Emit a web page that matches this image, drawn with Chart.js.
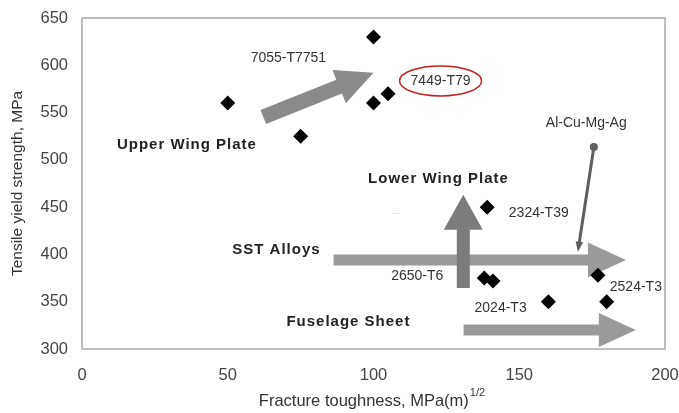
<!DOCTYPE html>
<html>
<head>
<meta charset="utf-8">
<script src="https://cdn.jsdelivr.net/npm/chart.js@4.4.1/dist/chart.umd.min.js"></script>
<style>
  html, body { margin: 0; padding: 0; background: #fff; }
  #wrap { width: 679px; height: 413px; }
</style>
</head>
<body>
<div id="wrap"><canvas id="chart"></canvas></div>
<script>
// alloy data points
const toughness = [50, 75, 100, 100, 105, 139, 138, 141, 160, 177, 180];
const strength  = [560, 525, 630, 560, 570, 450, 375, 372, 350, 378, 350];

const xTicks = [0, 50, 100, 150, 200];
const yTicks = [300, 350, 400, 450, 500, 550, 600, 650];

// annotation text, placed in data units
const labels = [
  { text: '7055-T7751', x: 70.8, y: 608, bold: false },
  { text: '7449-T79', x: 123, y: 583.5, bold: false },
  { text: 'Upper Wing Plate', x: 36, y: 515.5, bold: true },
  { text: 'Al-Cu-Mg-Ag', x: 173, y: 539, bold: false },
  { text: 'Lower Wing Plate', x: 122.3, y: 480, bold: true },
  { text: '2324-T39', x: 156.7, y: 444, bold: false },
  { text: 'SST Alloys', x: 66.7, y: 405, bold: true },
  { text: '2650-T6', x: 115, y: 377.5, bold: false },
  { text: '2524-T3', x: 190, y: 365.5, bold: false },
  { text: '2024-T3', x: 143.6, y: 343.5, bold: false },
  { text: 'Fuselage Sheet', x: 91.4, y: 328.6, bold: true }
];

// block arrows: from -> to, in data units
const arrows = [
  { x1: 86.3, y1: 394.2, x2: 186.6, y2: 394.2, shaft: 11, head: 35, len: 38, color: '#9a9a9a' },
  { x1: 130.9, y1: 320.2, x2: 190, y2: 320.2, shaft: 11, head: 34, len: 37, color: '#9a9a9a' },
  { x1: 130.8, y1: 364.6, x2: 130.8, y2: 463, shaft: 13, head: 39, len: 35, color: '#7c7c7c' },
  { x1: 62.2, y1: 545.3, x2: 100, y2: 592, shaft: 15, head: 36, len: 37, color: '#8a8a8a' }
];

function blockArrow(ctx, x1, y1, x2, y2, a) {
  const ang = Math.atan2(y2 - y1, x2 - x1);
  const len = Math.hypot(x2 - x1, y2 - y1);
  ctx.save();
  ctx.translate(x1, y1);
  ctx.rotate(ang);
  ctx.beginPath();
  ctx.moveTo(0, -a.shaft / 2);
  ctx.lineTo(len - a.len, -a.shaft / 2);
  ctx.lineTo(len - a.len, -a.head / 2);
  ctx.lineTo(len, 0);
  ctx.lineTo(len - a.len, a.head / 2);
  ctx.lineTo(len - a.len, a.shaft / 2);
  ctx.lineTo(0, a.shaft / 2);
  ctx.closePath();
  ctx.fillStyle = a.color;
  ctx.fill();
  ctx.restore();
}

const annotations = {
  id: 'annotations',
  beforeDatasetsDraw(chart) {
    const { ctx, chartArea: ca, scales: { x, y } } = chart;
    ctx.save();
    // plot frame
    ctx.strokeStyle = '#a8a8a8';
    ctx.lineWidth = 1.5;
    ctx.strokeRect(ca.left, ca.top, ca.right - ca.left, ca.bottom - ca.top);
    arrows.forEach(a => {
      blockArrow(ctx, x.getPixelForValue(a.x1), y.getPixelForValue(a.y1),
        x.getPixelForValue(a.x2), y.getPixelForValue(a.y2), a);
    });
    // thin pointer for Al-Cu-Mg-Ag
    const px1 = x.getPixelForValue(175.6), py1 = y.getPixelForValue(513.6);
    const px2 = x.getPixelForValue(170.1), py2 = y.getPixelForValue(402.6);
    const ang = Math.atan2(py2 - py1, px2 - px1);
    ctx.strokeStyle = '#5e5e5e';
    ctx.fillStyle = '#5e5e5e';
    ctx.lineWidth = 3;
    ctx.beginPath();
    ctx.moveTo(px1, py1);
    ctx.lineTo(px2 - Math.cos(ang) * 6, py2 - Math.sin(ang) * 6);
    ctx.stroke();
    ctx.beginPath();
    ctx.arc(px1, py1, 4, 0, Math.PI * 2);
    ctx.fill();
    ctx.beginPath();
    ctx.moveTo(px2, py2);
    ctx.lineTo(px2 - Math.cos(ang - 0.35) * 11, py2 - Math.sin(ang - 0.35) * 11);
    ctx.lineTo(px2 - Math.cos(ang + 0.35) * 11, py2 - Math.sin(ang + 0.35) * 11);
    ctx.closePath();
    ctx.fill();
    ctx.restore();
  },
  afterDatasetsDraw(chart) {
    const { ctx, chartArea: ca, scales: { x, y } } = chart;
    ctx.save();
    ctx.textAlign = 'center';
    ctx.textBaseline = 'middle';
    labels.forEach(l => {
      ctx.font = l.bold ? 'bold 15px "Liberation Sans", Arial' : '14px "Liberation Sans", Arial';
      ctx.letterSpacing = l.bold ? '1px' : '0px';
      ctx.fillStyle = l.bold ? '#222' : '#333';
      ctx.fillText(l.text, x.getPixelForValue(l.x), y.getPixelForValue(l.y));
    });
    ctx.letterSpacing = '0px';
    // dots
    ctx.fillStyle = '#bbb';
    ctx.font = '9px "Liberation Sans", Arial';
    ctx.fillText('...', x.getPixelForValue(107.6), y.getPixelForValue(445));
    // red ellipse round 7449-T79
    ctx.strokeStyle = '#c62020';
    ctx.lineWidth = 1.5;
    ctx.beginPath();
    ctx.ellipse(x.getPixelForValue(123), y.getPixelForValue(583.5), 41, 15, 0, 0, Math.PI * 2);
    ctx.stroke();
    // x axis title with superscript
    const main = 'Fracture toughness, MPa(m)';
    ctx.font = '16.5px "Liberation Sans", Arial';
    const w1 = ctx.measureText(main).width;
    ctx.font = '11px "Liberation Sans", Arial';
    const w2 = ctx.measureText('1/2').width;
    const cx = (ca.left + ca.right) / 2;
    const start = cx - 2 - (w1 + w2) / 2;
    ctx.textAlign = 'left';
    ctx.fillStyle = '#333';
    ctx.font = '16.5px "Liberation Sans", Arial';
    ctx.fillText(main, start, 401);
    ctx.font = '11px "Liberation Sans", Arial';
    ctx.fillText('1/2', start + w1 + 1, 393);
    ctx.restore();
  }
};

new Chart(document.getElementById('chart'), {
  type: 'scatter',
  data: {
    datasets: [{
      label: 'Alloys',
      data: toughness.map((t, i) => ({ x: t, y: strength[i] })),
      pointStyle: 'rectRot',
      pointRadius: 7.5,
      pointHoverRadius: 7.5,
      backgroundColor: '#000',
      borderColor: '#000',
      borderWidth: 0
    }]
  },
  options: {
    responsive: true,
    maintainAspectRatio: false,
    animation: false,
    events: [],
    layout: { padding: { top: 18, right: 14, left: 0, bottom: 0 } },
    plugins: {
      legend: { display: false },
      tooltip: { enabled: false }
    },
    scales: {
      x: {
        type: 'linear',
        min: 0,
        max: 200,
        afterBuildTicks: s => { s.ticks = xTicks.map(v => ({ value: v })); },
        afterFit: s => { s.height = 64; s.paddingLeft = 0; s.paddingRight = 0; },
        grid: { display: false, drawTicks: false },
        border: { display: false },
        ticks: { padding: 17, color: '#444', font: { family: '"Liberation Sans", Arial', size: 16.5 } }
      },
      y: {
        type: 'linear',
        min: 300,
        max: 650,
        afterBuildTicks: s => { s.ticks = yTicks.map(v => ({ value: v })); },
        afterFit: s => { s.width = 82; s.paddingTop = 0; s.paddingBottom = 0; },
        grid: { display: false, drawTicks: false },
        border: { display: false },
        ticks: { padding: 14, color: '#444', font: { family: '"Liberation Sans", Arial', size: 16.5 } },
        title: {
          display: true,
          text: 'Tensile yield strength, MPa',
          color: '#333',
          padding: { top: 8, bottom: 0 },
          font: { family: '"Liberation Sans", Arial', size: 15.5 }
        }
      }
    }
  },
  plugins: [annotations]
});
</script>
</body>
</html>
